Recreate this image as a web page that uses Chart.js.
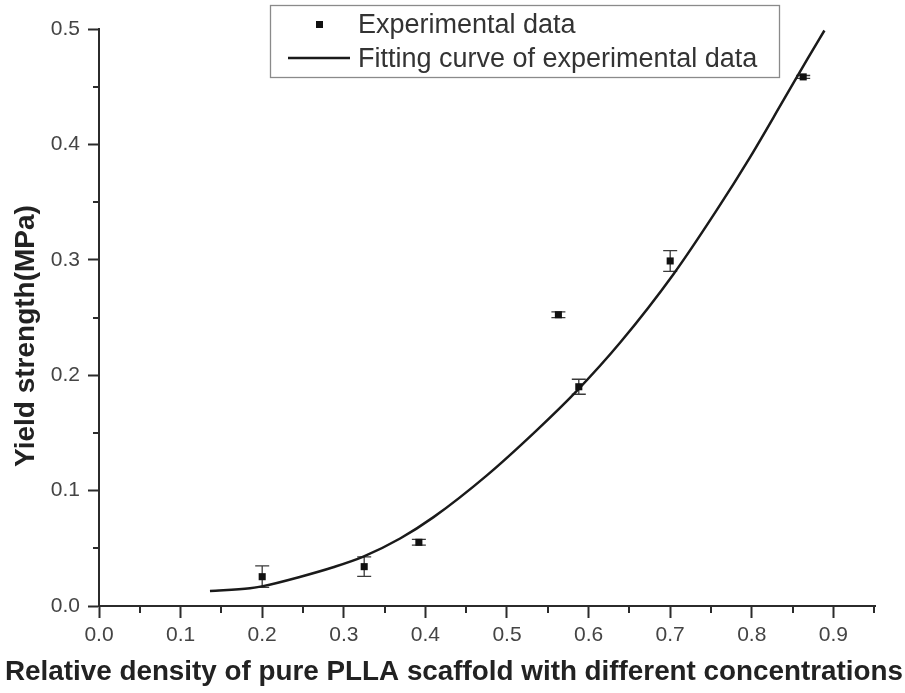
<!DOCTYPE html>
<html>
<head>
<meta charset="utf-8">
<script src="https://cdn.jsdelivr.net/npm/chart.js@4.4.1/dist/chart.umd.min.js"></script>
<style>
  html, body { margin: 0; padding: 0; background: #ffffff; }
  #wrap { width: 905px; height: 693px; }
</style>
</head>
<body>
<div id="wrap"><canvas id="c" width="905" height="693"></canvas></div>
<script>
// Measured yield strength vs relative density (mean and error half-width)
const densityExp = [0.200, 0.325, 0.392, 0.563, 0.588, 0.700, 0.863];
const strengthExp = [0.0254, 0.0341, 0.0552, 0.2524, 0.190, 0.299, 0.4585];
const strengthErr = [0.0093, 0.0084, 0.0025, 0.0025, 0.0065, 0.009, 0.0012];

// Fitted curve samples
const densityFit = [0.136, 0.185, 0.201, 0.246, 0.287, 0.324, 0.369, 0.410, 0.475, 0.536,
                    0.585, 0.639, 0.704, 0.757, 0.798, 0.839, 0.869, 0.889];
const strengthFit = [0.013, 0.0153, 0.0172, 0.0252, 0.0336, 0.0428, 0.0585, 0.0770, 0.113, 0.152,
                     0.186, 0.2285, 0.2875, 0.343, 0.389, 0.4385, 0.475, 0.4987];

// Axis ticks
const xTickValues = [0.0, 0.1, 0.2, 0.3, 0.4, 0.5, 0.6, 0.7, 0.8, 0.9];
const yTickValues = [0.0, 0.1, 0.2, 0.3, 0.4, 0.5];
const xMinorTicks = [0.05, 0.15, 0.25, 0.35, 0.45, 0.55, 0.65, 0.75, 0.85, 0.95];
const yMinorTicks = [0.05, 0.15, 0.25, 0.35, 0.45];

const legendLabels = ['Experimental data', 'Fitting curve of experimental data'];
const xTitle = 'Relative density of pure PLLA scaffold with different concentrations';
const yTitle = 'Yield strength(MPa)';

const FONT = '"Liberation Sans", Arial, Helvetica, sans-serif';
const AXIS_COLOR = '#2b2b2b';

// Vertical error bars with caps, drawn under the markers
const errorBarPlugin = {
  id: 'errorBars',
  beforeDatasetsDraw(chart) {
    const xs = chart.scales.x, ys = chart.scales.y;
    const ctx = chart.ctx;
    ctx.save();
    ctx.strokeStyle = '#3a3a3a';
    ctx.lineWidth = 1.3;
    const cap = 7;
    densityExp.forEach((d, i) => {
      const px = xs.getPixelForValue(d);
      const top = ys.getPixelForValue(strengthExp[i] + strengthErr[i]);
      const bot = ys.getPixelForValue(strengthExp[i] - strengthErr[i]);
      ctx.beginPath();
      ctx.moveTo(px, top); ctx.lineTo(px, bot);
      ctx.moveTo(px - cap, top); ctx.lineTo(px + cap, top);
      ctx.moveTo(px - cap, bot); ctx.lineTo(px + cap, bot);
      ctx.stroke();
    });
    ctx.restore();
  }
};

// Short minor tick marks between the labelled ticks
const minorTickPlugin = {
  id: 'minorTicks',
  afterDraw(chart) {
    const xs = chart.scales.x, ys = chart.scales.y;
    const ctx = chart.ctx;
    ctx.save();
    ctx.strokeStyle = AXIS_COLOR;
    ctx.lineWidth = 2;
    ctx.beginPath();
    xMinorTicks.forEach(v => {
      const px = Math.round(xs.getPixelForValue(v));
      ctx.moveTo(px, xs.top); ctx.lineTo(px, xs.top + 7);
    });
    yMinorTicks.forEach(v => {
      const py = Math.round(ys.getPixelForValue(v));
      ctx.moveTo(ys.right, py); ctx.lineTo(ys.right - 6, py);
    });
    ctx.stroke();
    ctx.restore();
  }
};

// Bold axis titles
const axisTitlePlugin = {
  id: 'axisTitles',
  afterDraw(chart) {
    const ctx = chart.ctx;
    ctx.save();
    ctx.fillStyle = '#222222';
    ctx.textAlign = 'center';
    ctx.textBaseline = 'alphabetic';
    ctx.font = 'bold 28px ' + FONT;
    ctx.fillText(xTitle, 454, 680, 898);
    ctx.translate(34, 336);
    ctx.rotate(-Math.PI / 2);
    ctx.font = 'bold 28px ' + FONT;
    ctx.fillText(yTitle, 0, 0);
    ctx.restore();
  }
};

// Framed legend box inside the plot at the top
const boxLegendPlugin = {
  id: 'boxLegend',
  afterDraw(chart) {
    const ctx = chart.ctx;
    ctx.save();
    const bx = 270.5, by = 5.5, bw = 509, bh = 72;
    ctx.fillStyle = '#ffffff';
    ctx.fillRect(bx, by, bw, bh);
    ctx.strokeStyle = '#8a8a8a';
    ctx.lineWidth = 1.3;
    ctx.strokeRect(bx, by, bw, bh);
    // marker sample
    ctx.fillStyle = '#111111';
    ctx.fillRect(316, 21, 7, 7);
    // line sample
    ctx.strokeStyle = '#1a1a1a';
    ctx.lineWidth = 2.5;
    ctx.beginPath();
    ctx.moveTo(288, 58); ctx.lineTo(350, 58);
    ctx.stroke();
    ctx.fillStyle = '#333333';
    ctx.font = '27px ' + FONT;
    ctx.textBaseline = 'alphabetic';
    ctx.textAlign = 'left';
    ctx.fillText(legendLabels[0], 358, 33);
    ctx.fillText(legendLabels[1], 358, 67);
    ctx.restore();
  }
};

const ctx = document.getElementById('c').getContext('2d');
new Chart(ctx, {
  type: 'scatter',
  data: {
    datasets: [
      {
        label: legendLabels[1],
        data: densityFit.map((x, i) => ({ x: x, y: strengthFit[i] })),
        showLine: true,
        borderColor: '#1a1a1a',
        borderWidth: 2.5,
        pointRadius: 0,
        cubicInterpolationMode: 'monotone',
        order: 2
      },
      {
        label: legendLabels[0],
        data: densityExp.map((x, i) => ({ x: x, y: strengthExp[i] })),
        pointStyle: 'rect',
        pointRadius: 5,
        backgroundColor: '#111111',
        borderColor: '#111111',
        borderWidth: 0,
        order: 1
      }
    ]
  },
  options: {
    responsive: false,
    animation: false,
    devicePixelRatio: 1,
    layout: { padding: { top: 29, right: 30, left: 0, bottom: 0 } },
    plugins: {
      legend: { display: false },
      tooltip: { enabled: false },
      title: { display: false }
    },
    scales: {
      x: {
        type: 'linear',
        min: 0,
        max: 0.951,
        afterBuildTicks: s => { s.ticks = xTickValues.map(v => ({ value: v })); },
        afterFit: s => { s.height = 87; },
        ticks: {
          callback: v => Number(v).toFixed(1),
          color: '#444444',
          font: { family: FONT, size: 21 },
          padding: 5,
          maxRotation: 0,
          autoSkip: false
        },
        grid: {
          display: true,
          drawOnChartArea: false,
          drawTicks: true,
          tickLength: 12,
          tickWidth: 2,
          tickColor: AXIS_COLOR,
          color: AXIS_COLOR
        },
        border: { display: true, color: AXIS_COLOR, width: 2 },
        title: { display: false, text: xTitle }
      },
      y: {
        type: 'linear',
        min: 0,
        max: 0.5,
        afterBuildTicks: s => { s.ticks = yTickValues.map(v => ({ value: v })); },
        afterFit: s => { s.width = 99; },
        ticks: {
          callback: v => Number(v).toFixed(1),
          color: '#444444',
          font: { family: FONT, size: 21 },
          padding: 8
        },
        grid: {
          display: true,
          drawOnChartArea: false,
          drawTicks: true,
          tickLength: 11,
          tickWidth: 2,
          tickColor: AXIS_COLOR,
          color: AXIS_COLOR
        },
        border: { display: true, color: AXIS_COLOR, width: 2 },
        title: { display: false, text: yTitle }
      }
    }
  },
  plugins: [errorBarPlugin, minorTickPlugin, axisTitlePlugin, boxLegendPlugin]
});
</script>
</body>
</html>
